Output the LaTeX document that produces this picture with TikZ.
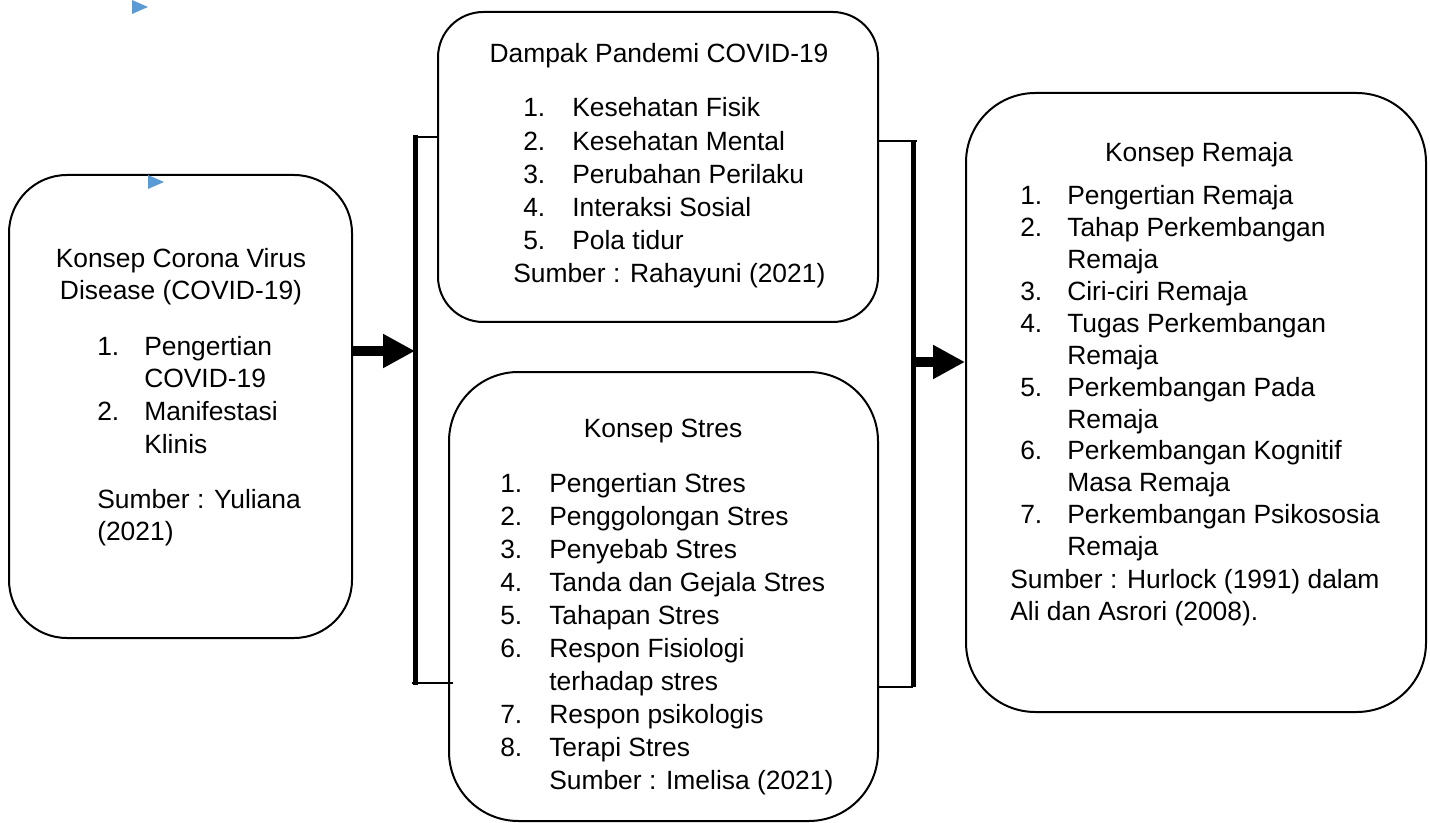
\documentclass[tikz,border=0pt]{standalone}
\usepackage{fontspec}
\setmainfont{Liberation Sans}
\usetikzlibrary{fit,arrows.meta}
\definecolor{tri}{RGB}{91,155,213}
\newcommand\numbox[2][36pt]{\makebox[#1][l]{#2}}
\begin{document}
\begin{tikzpicture}[x=0.75pt,y=-0.75pt,
  box/.style={draw,line width=1.5pt,inner sep=0pt},
  txt/.style={inner sep=0pt,font=\fontsize{19.8}{#1}\selectfont},
  txt/.default=24.75pt,
  brk/.style={line width=3.75pt},
  tick/.style={line width=2pt},
  arr/.style={line width=7.5pt,-{Triangle[length=24pt,width=24pt]}}]
\useasboundingbox (0,0) rectangle (1430,823);

% boxes
\node[box,rounded corners=43.5pt,fit={(9,175) (352,638)}] (b1) {};
\node[box,rounded corners=34pt,fit={(438,12) (878,322)}] (b2) {};
\node[box,rounded corners=52pt,fit={(449,372) (878,821)}] (b3) {};
\node[box,rounded corners=52pt,fit={(966,93) (1426,712)}] (b4) {};

% box 1 text
\node[txt=24pt,anchor=base] (t1) at (181,268)
  {\begin{tabular}[t]{@{}c@{}}Konsep Corona Virus\\Disease (COVID-19)\end{tabular}};
\node[txt=24.5pt,anchor=base west] (l1) at (97,355)
  {\begin{tabular}[t]{@{}l@{}}\numbox[35.25pt]{1.}Pengertian\\\numbox[35.25pt]{}COVID-19\\
   \numbox[35.25pt]{2.}Manifestasi\\\numbox[35.25pt]{}Klinis\end{tabular}};
\node[txt=24pt,anchor=base west] (s1) at (97,508)
  {\begin{tabular}[t]{@{}l@{}}Sumber : Yuliana\\(2021)\end{tabular}};

% box 2 text
\node[txt,anchor=base] (t2) at (659,63) {Dampak Pandemi COVID-19};
\node[txt=24.9pt,anchor=base west] (l2) at (523,117)
  {\begin{tabular}[t]{@{}l@{}}\numbox[36.75pt]{1.}Kesehatan Fisik\\
   \numbox[36.75pt]{2.}Kesehatan Mental\\
   \numbox[36.75pt]{3.}Perubahan Perilaku\\
   \numbox[36.75pt]{4.}Interaksi Sosial\\
   \numbox[36.75pt]{5.}Pola tidur\end{tabular}};
\node[txt,anchor=base west] (s2) at (513,283) {Sumber : Rahayuni (2021)};

% box 3 text
\node[txt,anchor=base] (t3) at (663,437) {Konsep Stres};
\node[txt=24.8pt,anchor=base west] (l3) at (500,492)
  {\begin{tabular}[t]{@{}l@{}}\numbox[36.75pt]{1.}Pengertian Stres\\
   \numbox[36.75pt]{2.}Penggolongan Stres\\
   \numbox[36.75pt]{3.}Penyebab Stres\\
   \numbox[36.75pt]{4.}Tanda dan Gejala Stres\\
   \numbox[36.75pt]{5.}Tahapan Stres\\
   \numbox[36.75pt]{6.}Respon Fisiologi\\
   \numbox[36.75pt]{}terhadap stres\\
   \numbox[36.75pt]{7.}Respon psikologis\\
   \numbox[36.75pt]{8.}Terapi Stres\\
   \numbox[36.75pt]{}Sumber : Imelisa (2021)\end{tabular}};

% box 4 text
\node[txt,anchor=base] (t4) at (1199,162) {Konsep Remaja};
\node[txt=23.9pt,anchor=base west] (l4) at (1020,205)
  {\begin{tabular}[t]{@{}l@{}}\numbox[35.25pt]{1.}Pengertian Remaja\\
   \numbox[35.25pt]{2.}Tahap Perkembangan\\
   \numbox[35.25pt]{}Remaja\\
   \numbox[35.25pt]{3.}Ciri-ciri Remaja\\
   \numbox[35.25pt]{4.}Tugas Perkembangan\\
   \numbox[35.25pt]{}Remaja\\
   \numbox[35.25pt]{5.}Perkembangan Pada\\
   \numbox[35.25pt]{}Remaja\\
   \numbox[35.25pt]{6.}Perkembangan Kognitif\\
   \numbox[35.25pt]{}Masa Remaja\\
   \numbox[35.25pt]{7.}Perkembangan Psikososia\\
   \numbox[35.25pt]{}Remaja\end{tabular}};
\node[txt=24pt,anchor=base west] (s4) at (1010,588)
  {\begin{tabular}[t]{@{}l@{}}Sumber : Hurlock (1991) dalam\\Ali dan Asrori (2008).\end{tabular}};

% left bracket
\coordinate (lbT) at (415,135);
\coordinate (lbB) at (415,685);
\coordinate (la) at (415,351);
\draw[brk] (lbT) -- (lbB);
\draw[tick] (415,137) -- (b2.west |- 0,137);
\draw[tick] (412,683) -- (453,683);
\draw[arr] (b1.east |- la) -- (la);

% right bracket
\coordinate (rbT) at (913,141);
\coordinate (rbB) at (913,687);
\coordinate (ra) at (913,362);
\draw[brk] (rbT) -- (rbB);
\draw[tick] (b2.east |- rbT) -- (917,141);
\draw[tick] (b3.east |- rbB) -- (rbB);
\draw[arr] (ra) -- (b4.west |- ra);

% small blue triangles
\fill[tri] (132,0) -- (148,7) -- (132,14) -- cycle;
\fill[tri] (148,175) -- (164,182) -- (148,189) -- cycle;
\end{tikzpicture}
\end{document}
